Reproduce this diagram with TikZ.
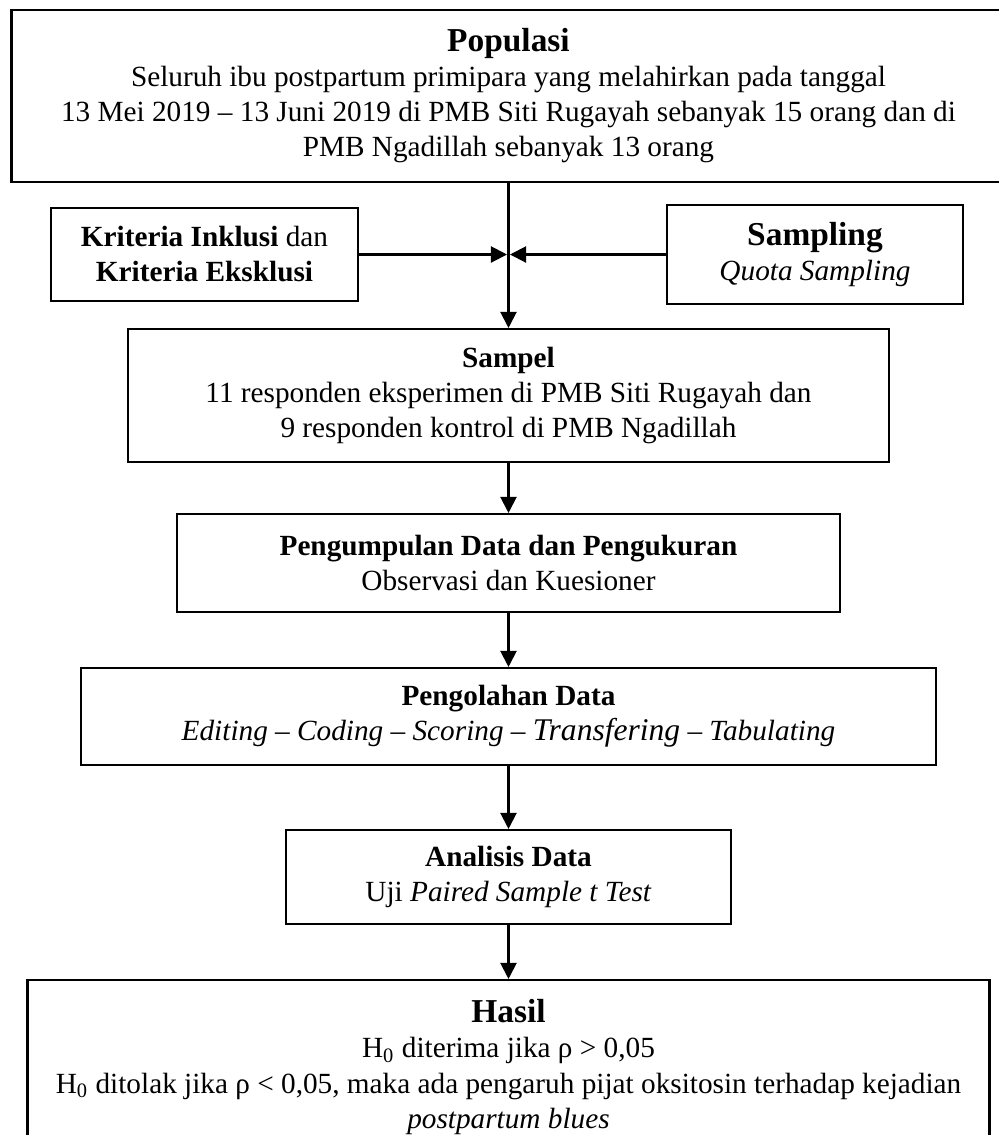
\documentclass[tikz,border=0pt]{standalone}
\usepackage{fontspec}
\setmainfont{Liberation Serif}
\usetikzlibrary{arrows.meta}
\newdimen\px \px=0.434pt
\tikzstyle{box}=[draw=black, line width=0.9pt, align=center, inner sep=0pt, font=\fontsize{12.7}{15.2}\selectfont]
\tikzstyle{arrow}=[draw=black, line width=0.9pt, -{Triangle[length=7pt, width=7pt]}]
\newcommand{\judul}[1]{{\fontsize{14.5}{16}\selectfont\textbf{#1}}}

\begin{document}
\begin{tikzpicture}[x=0.434pt, y=-0.434pt]
		   \useasboundingbox (0,0) rectangle (999,1135);
		   \begin{scope}
			   \node (0) at (508.5, 96)[box, minimum width=994\px, minimum height=172\px] {\judul{Populasi}\\
				   Seluruh ibu postpartum primipara yang melahirkan pada tanggal\\
				   13 Mei 2019 -- 13 Juni 2019 di PMB Siti Rugayah sebanyak 15 orang dan di\\
				   PMB Ngadillah sebanyak 13 orang};
			   \node (1) at (204.5, 254.5)[box, minimum width=307\px, minimum height=93\px] {\textbf{Kriteria Inklusi} dan\\ \textbf{Kriteria Eksklusi}};
			   \node (2) at (815, 254.5)[box, minimum width=296\px, minimum height=99\px] {\judul{Sampling}\\ \textit{Quota Sampling}};
			   \node (3) at (508.5, 395.5)[box, minimum width=761\px, minimum height=133\px] {\textbf{Sampel}\\
				   11 responden eksperimen di PMB Siti Rugayah dan\\
				   9 responden kontrol di PMB Ngadillah};
			   \node (4) at (508.5, 563)[box, minimum width=663\px, minimum height=98\px] {\textbf{Pengumpulan Data dan Pengukuran}\\ Observasi dan Kuesioner};
			   \node (5) at (508.5, 716.5)[box, minimum width=855\px, minimum height=97\px] {\textbf{Pengolahan Data}\\
				   \textit{Editing -- Coding -- Scoring -- {\fontsize{13.7}{15.2}\selectfont Transfering} -- Tabulating}};
			   \node (6) at (508.5, 877)[box, minimum width=445\px, minimum height=94\px] {\textbf{Analisis Data}\\ Uji \textit{Paired Sample t Test}};
			   \node (7) at (508.5, 1067)[box, minimum width=962\px, minimum height=174\px] {\judul{Hasil}\\
				   H\textsubscript{0} diterima jika ρ > 0,05\\
				   H\textsubscript{0} ditolak jika ρ < 0,05, maka ada pengaruh pijat oksitosin terhadap kejadian\\
				   \textit{postpartum blues}};
			   \coordinate (jl) at (507, 254.5);
			   \coordinate (jr) at (510, 254.5);
		   \end{scope}
		   \begin{scope}
			   \path [arrow] (0) edge (3);
			   \path [arrow] (1) edge (jl);
			   \path [arrow] (2) edge (jr);
			   \path [arrow] (3) edge (4);
			   \path [arrow] (4) edge (5);
			   \path [arrow] (5) edge (6);
			   \path [arrow] (6) edge (7);
		   \end{scope}
	   \end{tikzpicture}
\end{document}
